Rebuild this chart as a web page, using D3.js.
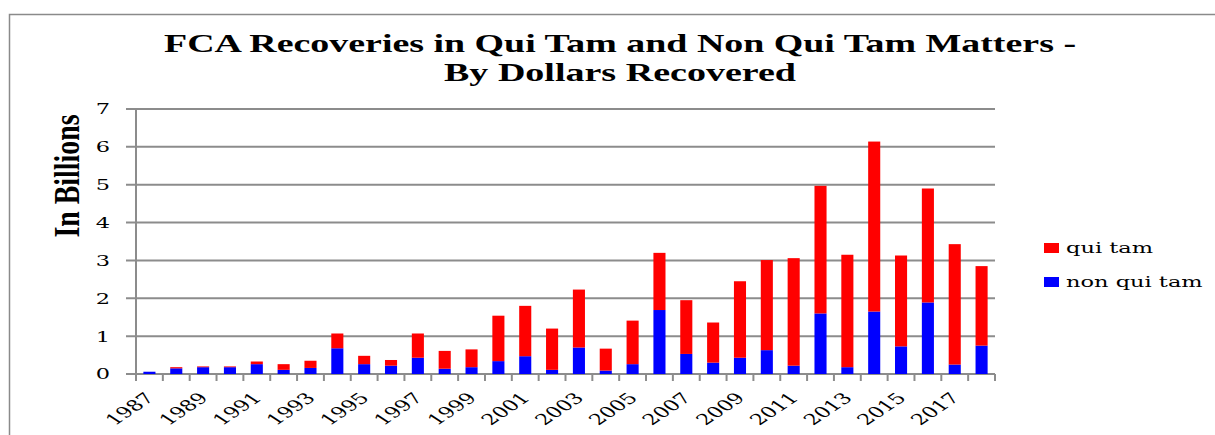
<!DOCTYPE html>
<html>
<head>
<meta charset="utf-8">
<script src="https://cdn.jsdelivr.net/npm/d3@7"></script>
<style>
html,body{margin:0;padding:0;background:#fff;}
svg{display:block;}
</style>
</head>
<body>
<svg id="chart" width="1215" height="435"></svg>
<script>
const years = d3.range(1987, 2019);
const nonQuiTam = [0.06,0.15,0.18,0.18,0.26,0.11,0.16,0.68,0.26,0.22,0.43,0.14,0.18,0.34,0.47,0.11,0.70,0.09,0.26,1.69,0.53,0.30,0.43,0.63,0.22,1.60,0.18,1.65,0.73,1.89,0.25,0.75];
const quiTam    = [0.00,0.03,0.02,0.02,0.07,0.15,0.19,0.39,0.22,0.15,0.64,0.47,0.47,1.20,1.33,1.09,1.53,0.58,1.15,1.51,1.42,1.06,2.02,2.38,2.84,3.37,2.97,4.49,2.40,3.01,3.18,2.10];
const yTicks = [0,1,2,3,4,5,6,7];
const xLabelYears = years.filter((y,i)=> i%2===0);
const seriesNames = ["qui tam","non qui tam"];
const seriesColors = ["#ff0000","#0000ff"];

const svg = d3.select("#chart");
const SX = 1.5; // horizontal stretch of text seen in the reference
const pLeft = 136, pRight = 995, pTop = 109, pBottom = 374;
const tickFont = "'DejaVu Serif', serif";

// border
svg.append("rect").attr("x",9.5).attr("y",14.5).attr("width",1300).attr("height",500)
  .attr("fill","none").attr("stroke","#8a8a8a").attr("stroke-width",1.5);

// title
const titleLines = ["FCA Recoveries in Qui Tam and Non Qui Tam Matters -","By Dollars Recovered"];
const titleY = [52, 81];
const titleLen = [912, 352];
titleLines.forEach((t,i)=>{
  svg.append("g").attr("transform",`translate(620,${titleY[i]}) scale(${SX},1)`)
    .append("text").attr("text-anchor","middle")
    .attr("font-family","'Liberation Serif', 'Times New Roman', serif")
    .attr("font-weight","bold").attr("font-size",26)
    .attr("textLength",titleLen[i]/SX).attr("lengthAdjust","spacingAndGlyphs")
    .attr("fill","#000").text(t);
});

const x = d3.scaleBand().domain(years).range([pLeft,pRight]).paddingInner(0.55).paddingOuter(0.275);
const y = d3.scaleLinear().domain([0,7]).range([pBottom,pTop]);

// gridlines + y ticks
yTicks.forEach(v=>{
  svg.append("line").attr("x1",pLeft-10).attr("x2",pRight).attr("y1",y(v)).attr("y2",y(v))
    .attr("stroke","#8c8c8c").attr("stroke-width",2);
  svg.append("g").attr("transform",`translate(110,${y(v)}) scale(${SX},1)`)
    .append("text").attr("text-anchor","end").attr("dy","0.36em")
    .attr("font-family",tickFont).attr("font-size",15)
    .attr("fill","#000").text(v);
});
// y axis line
svg.append("line").attr("x1",pLeft).attr("x2",pLeft).attr("y1",pTop).attr("y2",pBottom+1)
  .attr("stroke","#8c8c8c").attr("stroke-width",2);

// x ticks at band boundaries
const step = x.step();
const x0 = x(years[0]) - step*0.275;
d3.range(years.length+1).forEach(i=>{
  const xx = x0 + i*step;
  svg.append("line").attr("x1",xx).attr("x2",xx).attr("y1",pBottom).attr("y2",pBottom+7)
    .attr("stroke","#8c8c8c").attr("stroke-width",2);
});

// bars
const stacked = years.map((yr,i)=>({yr, nq:nonQuiTam[i], q:quiTam[i]}));
svg.append("g").selectAll("rect.nq").data(stacked).join("rect")
  .attr("x",d=>x(d.yr)).attr("width",x.bandwidth())
  .attr("y",d=>y(d.nq)).attr("height",d=>y(0)-y(d.nq)).attr("fill",seriesColors[1]);
svg.append("g").selectAll("rect.q").data(stacked).join("rect")
  .attr("x",d=>x(d.yr)).attr("width",x.bandwidth())
  .attr("y",d=>y(d.nq+d.q)).attr("height",d=>y(d.nq)-y(d.nq+d.q)).attr("fill",seriesColors[0]);

// x labels
xLabelYears.forEach(yr=>{
  const cx = x(yr) + x.bandwidth()/2;
  svg.append("g").attr("transform",`translate(${cx+6},${pBottom+25}) scale(${SX},1) rotate(-45)`)
    .append("text").attr("text-anchor","end")
    .attr("font-family",tickFont).attr("font-size",15)
    .attr("fill","#000").text(yr);
});

// y axis title
svg.append("g").attr("transform",`translate(79,176) scale(${SX},1) rotate(-90)`)
  .append("text").attr("text-anchor","middle")
  .attr("font-family","'Liberation Serif', serif").attr("font-weight","bold").attr("font-size",24)
  .attr("textLength",123).attr("lengthAdjust","spacingAndGlyphs")
  .attr("fill","#000").text("In Billions");

// legend
const legY = [248, 282];
seriesNames.forEach((n,i)=>{
  svg.append("rect").attr("x",1044).attr("y",legY[i]-5).attr("width",15).attr("height",10)
    .attr("fill",seriesColors[i]);
  svg.append("g").attr("transform",`translate(1066,${legY[i]}) scale(${SX},1)`)
    .append("text").attr("dy","0.35em")
    .attr("font-family",tickFont).attr("font-size",15)
    .attr("fill","#000").text(n);
});
</script>
</body>
</html>
